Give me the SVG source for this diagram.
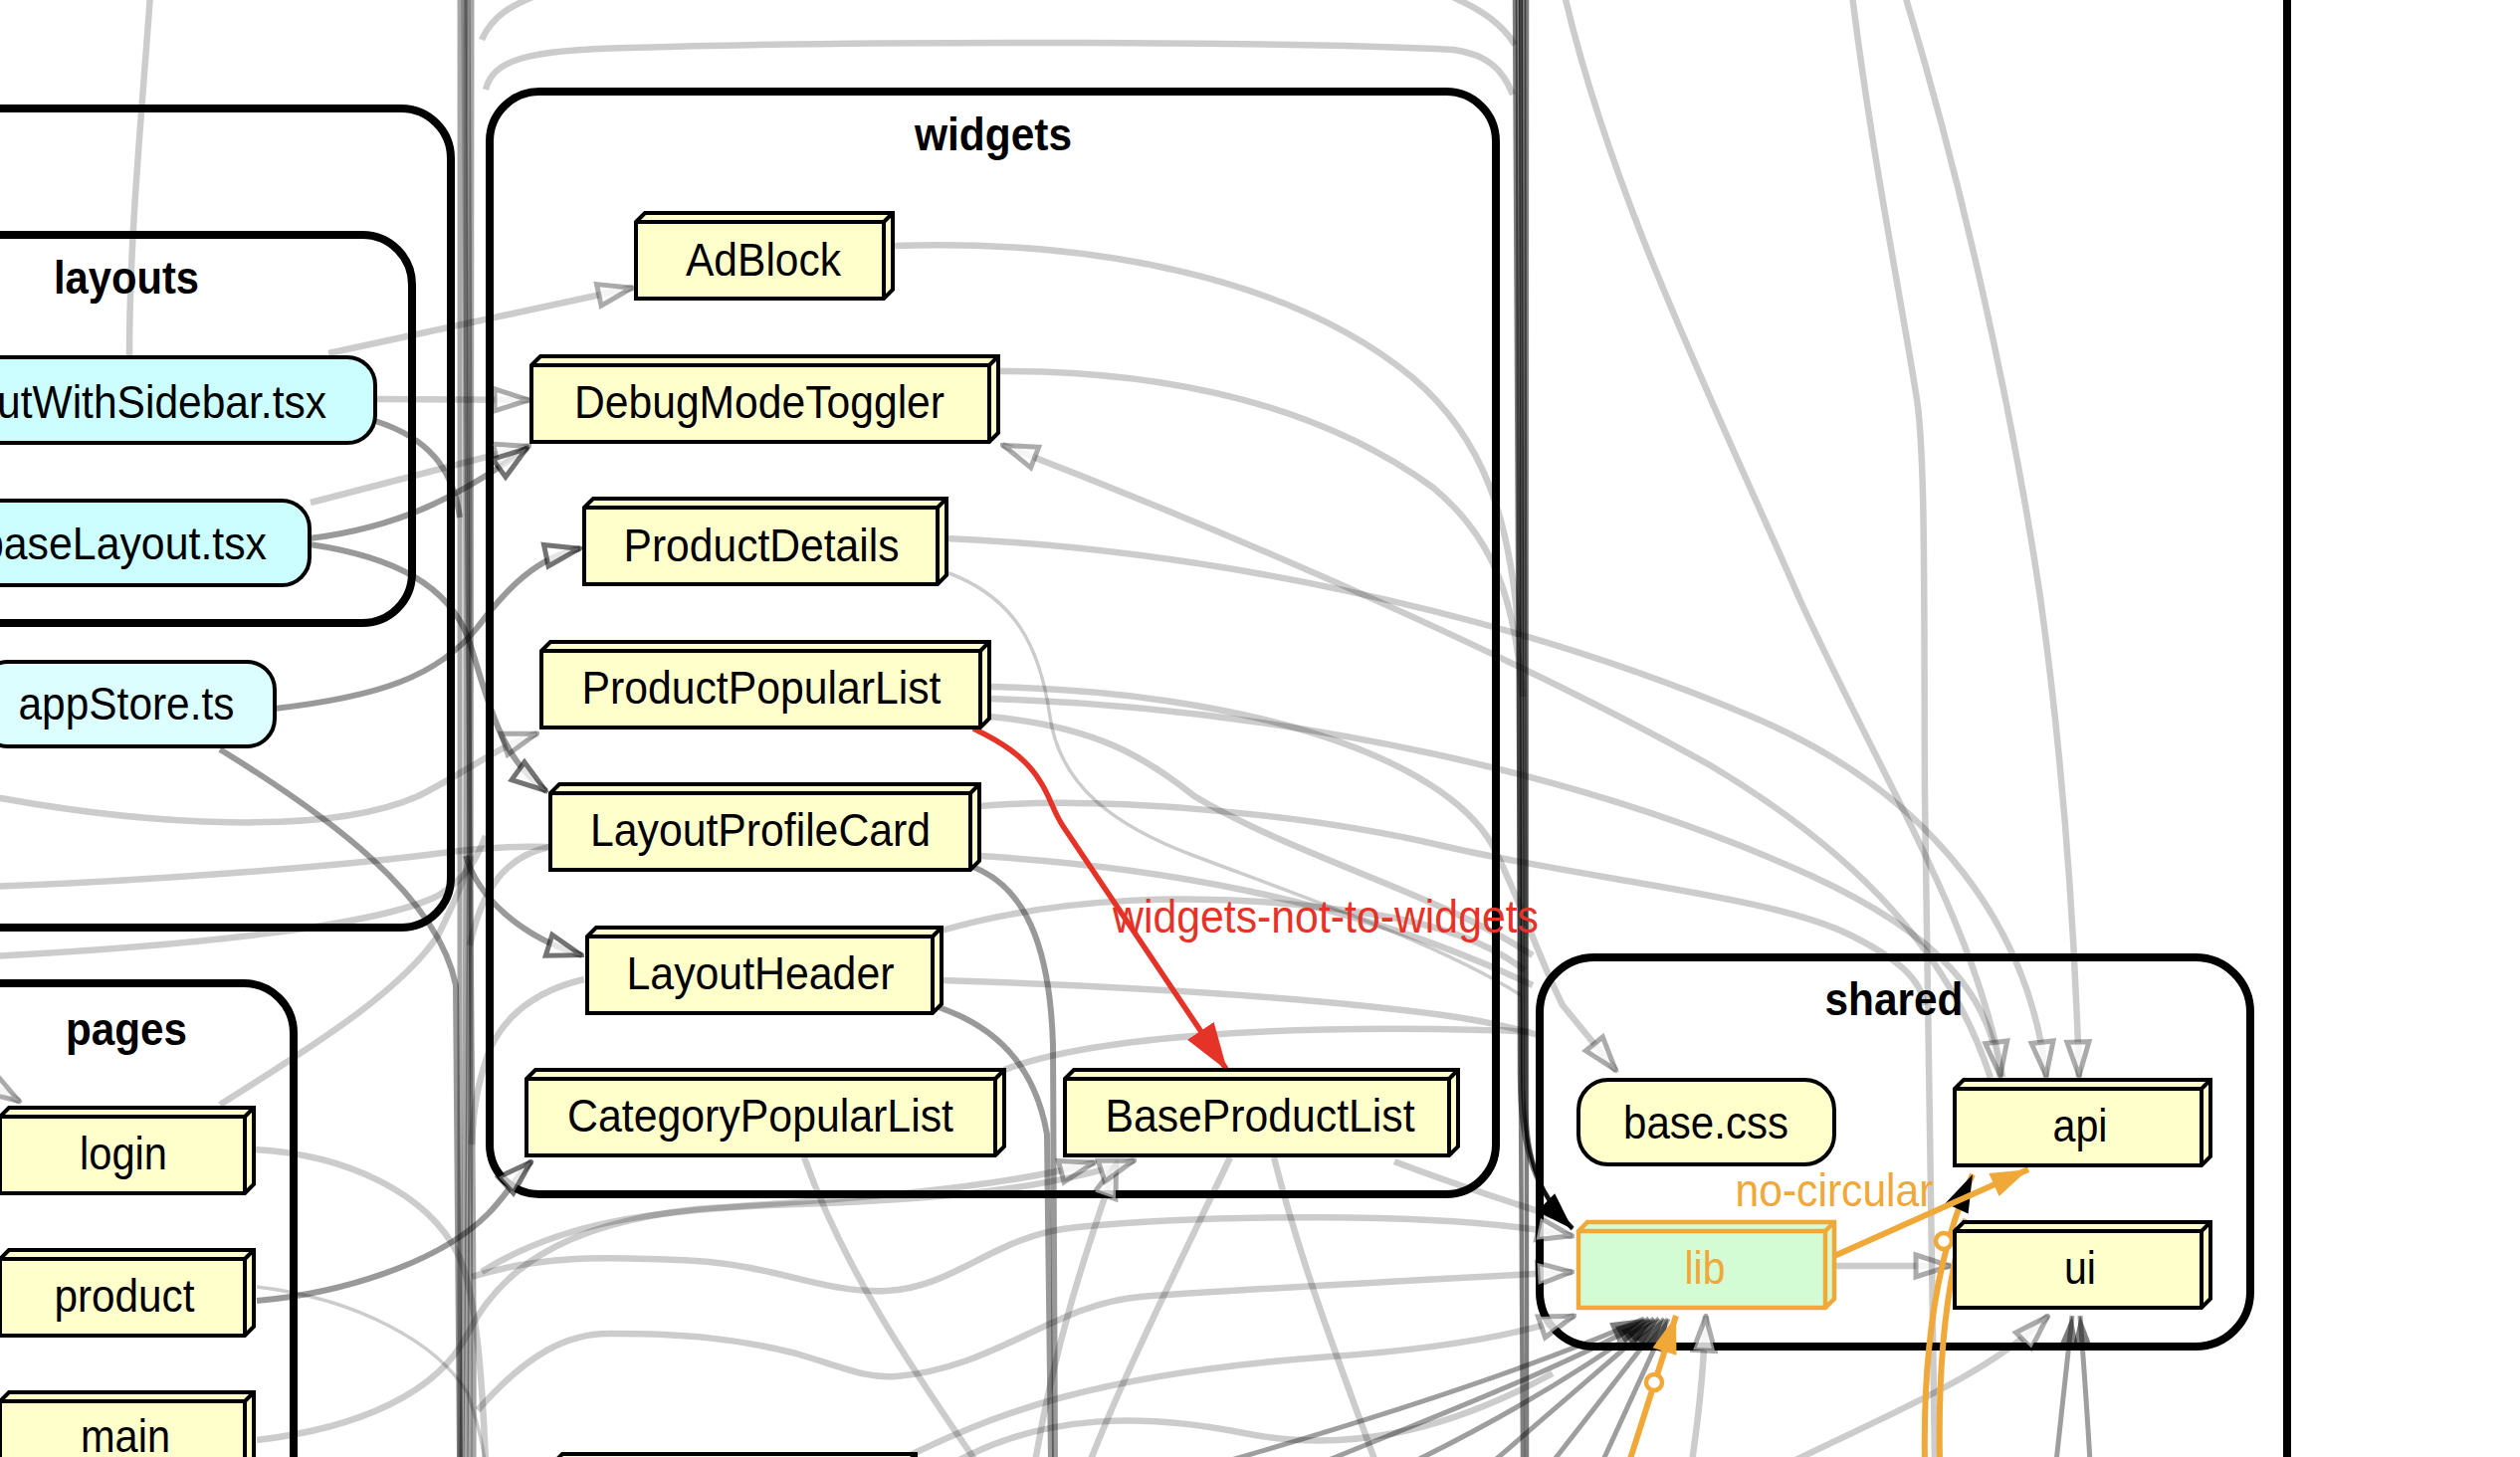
<svg xmlns="http://www.w3.org/2000/svg" width="2532" height="1464" viewBox="0 0 2532 1464">
<style>
.cl{fill:none;stroke:#000;stroke-width:8}
.b3{fill:#ffffcc;stroke:#000;stroke-width:4;stroke-linejoin:miter}
.cy{fill:#ccfeff;stroke:#000;stroke-width:4}
.cy2{fill:#ddfeff;stroke:#000;stroke-width:4}
.bc{fill:#ffffcc;stroke:#000;stroke-width:4}
.lb{fill:#d4fcd4;stroke:#f0a838;stroke-width:4.5}
.t{font-family:"Liberation Sans",Arial,Helvetica,sans-serif;font-size:47px;fill:#000;text-anchor:middle}
.tt{font-family:"Liberation Sans",Arial,Helvetica,sans-serif;font-size:47px;font-weight:bold;fill:#000;text-anchor:middle}
.e{fill:none;stroke:#000;stroke-opacity:0.2;stroke-width:6.5}
.et{fill:none;stroke:#000;stroke-opacity:0.2;stroke-width:3.5}
.ed{fill:none;stroke:#000;stroke-opacity:0.4;stroke-width:6}
.bd{fill:none;stroke:#000;stroke-opacity:0.35;stroke-width:5}
.br{fill:none;stroke:#000;stroke-opacity:0.5;stroke-width:4.5}
.ec{fill:none;stroke:#000;stroke-opacity:0.38;stroke-width:5}
.or{fill:none;stroke:#f0a838;stroke-width:6}
.rd{fill:none;stroke:#e53328;stroke-width:5.5}
</style>
<defs>
<marker id="ho" viewBox="0 0 40 30" refX="38" refY="15" markerWidth="40" markerHeight="30" markerUnits="userSpaceOnUse" orient="auto"><path d="M3,4 L37,15 L3,26 Z" fill="#fff" fill-opacity="0.8" stroke="#000" stroke-opacity="0.33" stroke-width="5"/></marker>
<marker id="hod" viewBox="0 0 40 30" refX="38" refY="15" markerWidth="40" markerHeight="30" markerUnits="userSpaceOnUse" orient="auto"><path d="M3,4 L37,15 L3,26 Z" fill="#fff" fill-opacity="0.75" stroke="#000" stroke-opacity="0.55" stroke-width="5"/></marker>
<marker id="hd" viewBox="0 0 40 30" refX="38" refY="15" markerWidth="38" markerHeight="28" markerUnits="userSpaceOnUse" orient="auto"><path d="M2,4 L38,15 L2,26 Z" fill="#000" fill-opacity="0.5"/></marker>
<marker id="hb" viewBox="0 0 40 30" refX="38" refY="15" markerWidth="42" markerHeight="32" markerUnits="userSpaceOnUse" orient="auto"><path d="M2,3 L38,15 L2,27 Z" fill="#000"/></marker>
<marker id="hy" viewBox="0 0 40 30" refX="38" refY="15" markerWidth="42" markerHeight="32" markerUnits="userSpaceOnUse" orient="auto"><path d="M2,3 L38,15 L2,27 Z" fill="#f0a838"/></marker>
<marker id="hr" viewBox="0 0 48 36" refX="46" refY="18" markerWidth="48" markerHeight="36" markerUnits="userSpaceOnUse" orient="auto"><path d="M0,2 L48,18 L0,34 Z" fill="#e53328"/></marker>
</defs>
<rect x="0" y="0" width="2532" height="1464" fill="#fff"/>

<g id="clusters">
<g id="cluster-root"><rect class="cl" x="-100" y="-100" width="2398" height="1700" rx="50"/></g>
<g id="cluster-app"><rect class="cl" x="-100" y="109" width="553" height="823" rx="50"/></g>
<g id="cluster-layouts"><rect class="cl" x="-100" y="236" width="514" height="390" rx="50"/><text class="tt" x="127" y="295" textLength="146" lengthAdjust="spacingAndGlyphs">layouts</text></g>
<g id="cluster-pages"><rect class="cl" x="-100" y="988" width="395" height="600" rx="50"/><text class="tt" x="127" y="1050" textLength="122" lengthAdjust="spacingAndGlyphs">pages</text></g>
<g id="cluster-widgets"><rect class="cl" x="492" y="92" width="1011" height="1108" rx="50"/><text class="tt" x="998" y="151" textLength="158" lengthAdjust="spacingAndGlyphs">widgets</text></g>
<g id="cluster-shared"><rect class="cl" x="1547" y="962" width="714" height="391" rx="55"/><text class="tt" x="1903" y="1020" textLength="139" lengthAdjust="spacingAndGlyphs">shared</text></g>
</g>

<g id="connectors">
<!-- bundles -->
<path class="bd" d="M462,-5 C463,400 460,800 462,1469"/>
<path class="bd" d="M466,-5 C468,500 470,900 464,1469"/>
<path class="bd" d="M470,-5 C472,300 474,700 468,1469"/>
<path class="bd" d="M474,-5 C470,400 476,1000 472,1469"/>
<path class="bd" d="M468,-5 C466,600 478,1100 476,1469"/>
<path class="br" d="M1522,-5 C1524,500 1528,900 1530,1469"/>
<path class="br" d="M1534,-5 C1532,500 1536,900 1534,1469"/>
<path class="br" d="M1531,-5 C1533,400 1535,800 1533,1100 C1532,1170 1550,1205 1580,1234"/>
<path class="br" d="M1525,-5 C1527,400 1529,800 1527,1080 C1527,1160 1545,1200 1580,1234"/>
<path fill="none" stroke="#000" stroke-opacity="0.7" stroke-width="4" d="M1528,-5 C1530,400 1532,800 1530,1080 C1530,1160 1545,1200 1580,1235" marker-end="url(#hb)"/>

<!-- light edges -->
<path class="e" d="M151,-5 C142,120 130,240 130,358"/>
<path class="e" d="M330,355 L636,289" marker-end="url(#ho)"/>
<path class="e" d="M378,401 L532,402" marker-end="url(#ho)"/>
<path class="e" d="M312,505 L532,448" marker-end="url(#ho)"/>
<path class="e" d="M897,247 C1100,240 1300,280 1420,380 C1490,440 1518,520 1526,640"/>
<path class="e" d="M1003,373 C1180,372 1330,410 1440,490 C1500,540 1522,600 1530,700"/>
<path class="e" d="M2000,1083 C1960,960 1870,860 1720,770 C1560,680 1300,560 1007,447" marker-end="url(#ho)"/>
<path class="e" d="M951,541 C1200,552 1500,610 1760,720 C1950,800 2040,940 2056,1082" marker-end="url(#ho)"/>
<path class="et" d="M951,575 C1020,600 1045,650 1055,720 C1065,790 1120,830 1200,860 C1320,905 1450,950 1528,1000"/>
<path class="e" d="M994,690 C1250,695 1450,760 1500,850 C1530,910 1545,960 1570,1010 L1624,1076" marker-end="url(#ho)"/>
<path class="e" d="M994,702 C1300,712 1600,780 1820,880 C1950,940 2000,1000 2010,1082" marker-end="url(#ho)"/>
<path class="e" d="M984,810 C1100,800 1300,815 1450,850 C1600,885 1780,900 1860,940 C1910,965 1930,985 1934,1010"/>
<path class="e" d="M946,935 C1050,905 1200,890 1382,919 C1450,930 1500,950 1532,975"/>
<path class="e" d="M946,985 C1100,990 1300,1000 1450,1020 C1500,1027 1525,1034 1545,1040"/>
<path class="e" d="M1009,1075 C1100,1040 1300,1030 1490,1035 C1510,1035 1525,1036 1535,1037"/>
<path class="e" d="M994,720 C1100,730 1150,760 1200,800 C1300,860 1450,900 1540,960"/>
<path class="e" d="M984,860 C1150,870 1350,900 1540,990"/>
<path class="e" d="M-10,800 C150,830 330,840 420,800 C470,775 500,750 540,737" marker-end="url(#ho)"/>
<path class="e" d="M-10,891 C150,885 350,870 452,856 C490,851 520,850 553,851"/>
<path class="e" d="M-10,961 C200,950 380,930 440,900 C470,882 480,860 488,840"/>
<path class="e" d="M-40,1070 L20,1107" marker-end="url(#ho)"/>
<path class="e" d="M221,1110 C300,1060 400,1000 440,940 C460,900 468,880 472,860"/>
<path class="e" d="M255,1155 C350,1160 430,1200 460,1260 C480,1300 485,1400 488,1469"/>
<path class="e" d="M258,1447 C360,1435 440,1400 470,1340 C500,1280 560,1230 700,1215 C850,1205 1000,1195 1100,1168" marker-end="url(#ho)"/>
<path class="e" d="M474,1283 C540,1262 600,1262 700,1267 C780,1272 830,1300 891,1297 C960,1294 1000,1240 1083,1233 C1200,1222 1450,1215 1580,1242" marker-end="url(#ho)"/>
<path class="e" d="M480,1417 C530,1360 570,1340 612,1340 C690,1340 740,1345 800,1360 C850,1375 870,1385 900,1383 C1000,1375 1060,1310 1146,1303 C1250,1295 1450,1285 1580,1278" marker-end="url(#ho)"/>
<path class="e" d="M552,851 C510,860 485,890 472,950"/>
<path class="e" d="M587,984 C540,995 505,1020 490,1060 C480,1090 476,1110 474,1150"/>
<path class="e" d="M808,1163 C850,1280 920,1380 981,1469"/>
<path class="e" d="M1236,1163 C1180,1280 1130,1380 1095,1469"/>
<path class="e" d="M1280,1163 C1310,1280 1350,1380 1382,1469"/>
<path class="e" d="M1040,1469 C1060,1350 1090,1260 1122,1168" marker-end="url(#ho)"/>
<path class="e" d="M484,1278 C560,1230 650,1215 800,1210 C950,1205 1050,1195 1140,1166" marker-end="url(#ho)"/>
<path class="e" d="M1401,1167 C1460,1190 1510,1205 1560,1222"/>
<path class="e" d="M900,1469 C1000,1420 1100,1380 1338,1363 C1450,1355 1530,1340 1582,1322" marker-end="url(#ho)"/>
<path class="e" d="M960,1469 C1050,1420 1150,1420 1250,1440 C1350,1460 1450,1440 1560,1380"/>
<path class="e" d="M1700,1469 C1710,1400 1712,1360 1714,1322" marker-end="url(#ho)"/>
<path class="e" d="M1800,1469 C1900,1420 2000,1380 2058,1322" marker-end="url(#ho)"/>
<path class="e" d="M1843,1272 L1960,1272" marker-end="url(#ho)"/>
<path class="e" d="M1861,-5 C1880,150 1910,300 1925,395 C1935,450 1933,600 1934,800 C1935,1000 1940,1200 1944,1469"/>
<path class="e" d="M1572,-5 C1620,200 1720,400 1810,606 C1900,800 1985,930 2012,1082"/>
<path class="e" d="M1914,-5 C1970,180 2020,400 2050,600 C2075,780 2085,950 2089,1082" marker-end="url(#ho)"/>
<path class="e" d="M488,90 C495,60 530,50 632,48 C900,40 1300,42 1461,50 C1495,55 1510,70 1520,95"/>
<path class="e" d="M484,40 C495,15 515,5 540,-5"/>
<path class="e" d="M1455,-5 C1490,10 1510,25 1522,45"/>

<!-- darker edges -->
<path class="ed" d="M377,423 C430,440 455,470 462,520"/>
<path class="ed" d="M311,541 C400,530 460,500 530,450" marker-end="url(#hod)"/>
<path class="ed" d="M311,547 C400,560 450,590 470,640 C490,700 500,760 549,795" marker-end="url(#hod)"/>
<path class="ed" d="M276,712 C380,700 440,680 480,630 C510,590 540,560 583,551" marker-end="url(#hod)"/>
<path class="ed" d="M221,753 C330,820 440,900 458,990 L462,1469"/>
<path class="ed" d="M468,860 C480,900 520,940 585,960" marker-end="url(#hod)"/>
<path class="ed" d="M975,870 C1030,890 1055,950 1058,1050 L1060,1469"/>
<path class="ed" d="M937,1010 C1000,1030 1040,1070 1052,1140 L1056,1469"/>
<path class="ed" d="M258,1307 C340,1300 440,1270 490,1220 C510,1200 520,1180 534,1167" marker-end="url(#hod)"/>
<path class="et" d="M258,1293 C360,1305 440,1350 470,1400 C480,1430 485,1450 487,1469"/>

<!-- converging into lib / ui -->
<path class="ec" d="M1230,1469 C1400,1420 1550,1370 1652,1325" marker-end="url(#hd)"/>
<path class="ec" d="M1330,1469 C1450,1420 1580,1370 1657,1325" marker-end="url(#hd)"/>
<path class="ec" d="M1420,1469 C1520,1420 1600,1370 1662,1325" marker-end="url(#hd)"/>
<path class="ec" d="M1500,1469 L1667,1325" marker-end="url(#hd)"/>
<path class="ec" d="M1560,1469 L1672,1325" marker-end="url(#hd)"/>
<path class="ec" d="M1610,1469 L1676,1325" marker-end="url(#hd)"/>
<path class="ec" d="M2066,1469 L2082,1322" marker-end="url(#hd)"/>
<path class="ec" d="M2100,1469 C2096,1400 2092,1350 2090,1322" marker-end="url(#hd)"/>

<!-- orange no-circular edges -->
<path class="or" d="M1949,1469 C1947,1370 1955,1290 1975,1225"/>
<path class="or" d="M1934,1469 C1932,1360 1945,1260 1982,1180" marker-end="url(#hb)"/>
<circle cx="1953" cy="1247" r="8" fill="#fff" stroke="#f0a838" stroke-width="4.5"/>
<path class="or" d="M1637,1469 L1684,1322" marker-end="url(#hy)"/>
<circle cx="1662" cy="1389" r="8" fill="#fff" stroke="#f0a838" stroke-width="4.5"/>
<path class="or" d="M1843,1262 L2038,1175" marker-end="url(#hy)"/>

<!-- red widgets-not-to-widgets edge -->
<path class="rd" d="M978,732 C1005,745 1030,760 1045,785 C1055,800 1058,815 1068,830 L1232,1074" marker-end="url(#hr)"/>
</g>

<g id="nodes">
<g id="n-LayoutWithSidebar"><rect class="cy" x="-60" y="359" width="437" height="86" rx="28"/><text class="t" x="328" y="420" style="text-anchor:end" textLength="331" lengthAdjust="spacingAndGlyphs">utWithSidebar.tsx</text></g>
<g id="n-baseLayout"><rect class="cy" x="-60" y="503" width="371" height="85" rx="28"/><text class="t" x="268" y="562" style="text-anchor:end" textLength="288" lengthAdjust="spacingAndGlyphs">baseLayout.tsx</text></g>
<g id="n-appStore"><rect class="cy2" x="-20" y="665" width="296" height="85" rx="28"/><text class="t" x="127" y="723" textLength="217" lengthAdjust="spacingAndGlyphs">appStore.ts</text></g>

<g id="n-AdBlock"><path class="b3" d="M639,223 L648,214 L897,214 L897,291 L888,300 L639,300 Z M639,223 L888,223 L888,300 M888,223 L897,214"/><text class="t" x="767" y="277" textLength="156" lengthAdjust="spacingAndGlyphs">AdBlock</text></g>
<g id="n-DebugModeToggler"><path class="b3" d="M534,367 L543,358 L1003,358 L1003,435 L994,444 L534,444 Z M534,367 L994,367 L994,444 M994,367 L1003,358"/><text class="t" x="763" y="420" textLength="372" lengthAdjust="spacingAndGlyphs">DebugModeToggler</text></g>
<g id="n-ProductDetails"><path class="b3" d="M587,510 L596,501 L951,501 L951,578 L942,587 L587,587 Z M587,510 L942,510 L942,587 M942,510 L951,501"/><text class="t" x="765" y="564" textLength="277" lengthAdjust="spacingAndGlyphs">ProductDetails</text></g>
<g id="n-ProductPopularList"><path class="b3" d="M544,654 L553,645 L994,645 L994,722 L985,731 L544,731 Z M544,654 L985,654 L985,731 M985,654 L994,645"/><text class="t" x="765" y="707" textLength="361" lengthAdjust="spacingAndGlyphs">ProductPopularList</text></g>
<g id="n-LayoutProfileCard"><path class="b3" d="M553,797 L562,788 L984,788 L984,865 L975,874 L553,874 Z M553,797 L975,797 L975,874 M975,797 L984,788"/><text class="t" x="764" y="850" textLength="342" lengthAdjust="spacingAndGlyphs">LayoutProfileCard</text></g>
<g id="n-LayoutHeader"><path class="b3" d="M590,941 L599,932 L946,932 L946,1009 L937,1018 L590,1018 Z M590,941 L937,941 L937,1018 M937,941 L946,932"/><text class="t" x="764" y="994" textLength="269" lengthAdjust="spacingAndGlyphs">LayoutHeader</text></g>
<g id="n-CategoryPopularList"><path class="b3" d="M529,1084 L538,1075 L1009,1075 L1009,1152 L1000,1161 L529,1161 Z M529,1084 L1000,1084 L1000,1161 M1000,1084 L1009,1075"/><text class="t" x="764" y="1137" textLength="388" lengthAdjust="spacingAndGlyphs">CategoryPopularList</text></g>
<g id="n-BaseProductList"><path class="b3" d="M1070,1084 L1079,1075 L1465,1075 L1465,1152 L1456,1161 L1070,1161 Z M1070,1084 L1456,1084 L1456,1161 M1456,1084 L1465,1075"/><text class="t" x="1266" y="1137" textLength="311" lengthAdjust="spacingAndGlyphs">BaseProductList</text></g>

<g id="n-login"><path class="b3" d="M0,1122 L9,1113 L255,1113 L255,1190 L246,1199 L0,1199 Z M0,1122 L246,1122 L246,1199 M246,1122 L255,1113"/><text class="t" x="124" y="1175" textLength="88" lengthAdjust="spacingAndGlyphs">login</text></g>
<g id="n-product"><path class="b3" d="M0,1265 L9,1256 L255,1256 L255,1333 L246,1342 L0,1342 Z M0,1265 L246,1265 L246,1342 M246,1265 L255,1256"/><text class="t" x="125" y="1318" textLength="141" lengthAdjust="spacingAndGlyphs">product</text></g>
<g id="n-main"><path class="b3" d="M0,1408 L9,1399 L255,1399 L255,1476 L246,1485 L0,1485 Z M0,1408 L246,1408 L246,1485 M246,1408 L255,1399"/><text class="t" x="126" y="1459" textLength="90" lengthAdjust="spacingAndGlyphs">main</text></g>
<g id="n-bottom"><path class="b3" d="M556,1470 L565,1461 L920,1461 L920,1538 L911,1547 L556,1547 Z M556,1470 L911,1470 L911,1547 M911,1470 L920,1461"/></g>

<g id="n-base-css"><rect class="bc" x="1586" y="1085" width="257" height="85" rx="30"/><text class="t" x="1714" y="1144" textLength="166" lengthAdjust="spacingAndGlyphs">base.css</text></g>
<g id="n-api"><path class="b3" d="M1964,1094 L1973,1085 L2221,1085 L2221,1162 L2212,1171 L1964,1171 Z M1964,1094 L2212,1094 L2212,1171 M2212,1094 L2221,1085"/><text class="t" x="2090" y="1147" textLength="55" lengthAdjust="spacingAndGlyphs">api</text></g>
<g id="n-ui"><path class="b3" d="M1964,1237 L1973,1228 L2221,1228 L2221,1305 L2212,1314 L1964,1314 Z M1964,1237 L2212,1237 L2212,1314 M2212,1237 L2221,1228"/><text class="t" x="2090" y="1290" textLength="32" lengthAdjust="spacingAndGlyphs">ui</text></g>
<g id="n-lib"><path class="lb" d="M1586,1237 L1595,1228 L1843,1228 L1843,1305 L1834,1314 L1586,1314 Z M1586,1237 L1834,1237 L1834,1314 M1834,1237 L1843,1228"/><text class="t" x="1713" y="1290" style="fill:#f0a838" textLength="41" lengthAdjust="spacingAndGlyphs">lib</text></g>
</g>

<g id="edge-labels">
<text class="t" x="1332" y="937" style="fill:#e53328" textLength="428" lengthAdjust="spacingAndGlyphs">widgets-not-to-widgets</text>
<text class="t" x="1843" y="1212" style="fill:#f0a838" textLength="199" lengthAdjust="spacingAndGlyphs">no-circular</text>
</g>
</svg>
